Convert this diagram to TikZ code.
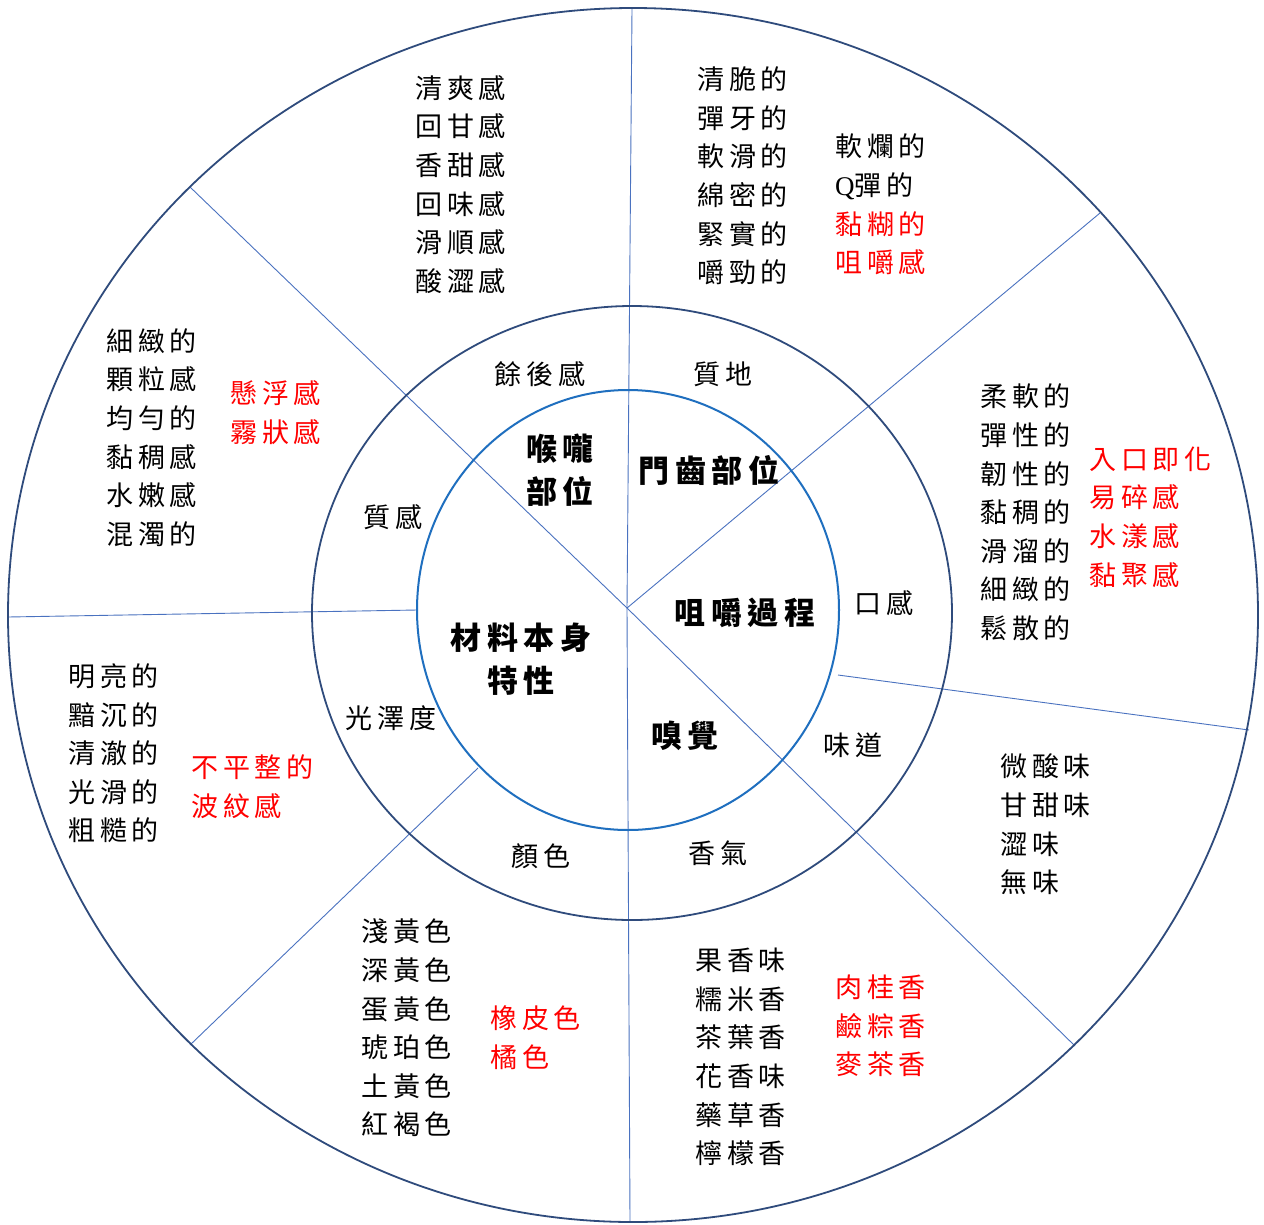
\documentclass[tikz,border=0pt]{standalone}
\usepackage{fontspec}
\setmainfont{Noto Sans CJK TC}[LetterSpace=18]
\newfontfamily\latinQ{Liberation Serif}
\definecolor{navy}{HTML}{2F4B7C}
\definecolor{innerblue}{HTML}{1F6FBF}
\definecolor{spoke}{HTML}{4A72C0}
\definecolor{redtxt}{HTML}{FF0000}
\begin{document}
\begin{tikzpicture}[x=1pt,y=-1pt,
  ringline/.style={draw=navy,line width=1.8pt},
  coreline/.style={draw=innerblue,line width=2pt},
  spokeline/.style={draw=spoke,line width=0.9pt},
  listtext/.style={align=left,inner sep=0pt,anchor=west,font=\fontsize{27}{38.6}\selectfont},
  redlist/.style={listtext,text=redtxt},
  midlabel/.style={inner sep=0pt,font=\fontsize{27}{30}\selectfont},
  hublabel/.style={inner sep=0pt,align=center,font=\bfseries\fontsize{31}{43}\selectfont}]
\useasboundingbox (0,0) rectangle (1264,1224);
\fill[white] (0,0) rectangle (1264,1224);
% spoke coordinates
\coordinate (C) at (627,608);
\coordinate (Ntop) at (632,9);
\coordinate (Nbot) at (630,1221);
\coordinate (UR) at (1100,213);
\coordinate (LR) at (1075,1046);
\coordinate (UL) at (190,187);
\coordinate (Lin) at (417,610);
\coordinate (Lout) at (8,617);
\coordinate (LLin) at (478,768);
\coordinate (LLout) at (190,1045);
\coordinate (Rin) at (838,675);
\coordinate (Rout) at (1249,730);
% spokes
\draw[spokeline] (Ntop) -- (C) -- (Nbot);
\draw[spokeline] (C) -- (UR);
\draw[spokeline] (C) -- (LR);
\draw[spokeline] (C) -- (UL);
\draw[spokeline] (Lin) -- (Lout);
\draw[spokeline] (LLin) -- (LLout);
\draw[spokeline] (Rin) -- (Rout);
% rings
\draw[ringline] (633,615) ellipse [x radius=625pt, y radius=607pt];
\draw[ringline] (632,613) ellipse [x radius=320pt, y radius=307pt];
\draw[coreline] (628,610) ellipse [x radius=211pt, y radius=220pt];
% hub labels
\node[hublabel] (throat) at (560,470) {喉嚨\\部位};
\node[hublabel] (teeth) at (709,470) {門齒部位};
\node[hublabel] (chew) at (745,613) {咀嚼過程};
\node[hublabel] (material) at (521,659) {材料本身\\特性};
\node[hublabel] (smell) at (685,736) {嗅覺};
% middle ring labels
\node[midlabel] (after) at (540,374) {餘後感};
\node[midlabel] (texture) at (723,374) {質地};
\node[midlabel] (feel) at (393,517) {質感};
\node[midlabel] (mouth) at (884,603) {口感};
\node[midlabel] (gloss) at (391,718) {光澤度};
\node[midlabel] (taste) at (853,745) {味道};
\node[midlabel] (colour) at (541,856) {顏色};
\node[midlabel] (aroma) at (718,853) {香氣};
% outer lists
\node[listtext] (afterlist) at (415,184.5) {清爽感\\回甘感\\香甜感\\回味感\\滑順感\\酸澀感};
\node[listtext] (texlist) at (697,176) {清脆的\\彈牙的\\軟滑的\\綿密的\\緊實的\\嚼勁的};
\node[listtext] (texlist2) at (835,204.5) {軟爛的\\{\latinQ Q}彈的\\\textcolor{redtxt}{黏糊的}\\\textcolor{redtxt}{咀嚼感}};
\node[listtext] (feellist) at (106,437.5) {細緻的\\顆粒感\\均勻的\\黏稠感\\水嫩感\\混濁的};
\node[redlist] (feellist2) at (230,412.5) {懸浮感\\霧狀感};
\node[listtext] (mouthlist) at (980,512.5) {柔軟的\\彈性的\\韌性的\\黏稠的\\滑溜的\\細緻的\\鬆散的};
\node[redlist] (mouthlist2) at (1089,517) {入口即化\\易碎感\\水漾感\\黏聚感};
\node[listtext] (glosslist) at (68,753.5) {明亮的\\黯沉的\\清澈的\\光滑的\\粗糙的};
\node[redlist] (glosslist2) at (191,787) {不平整的\\波紋感};
\node[listtext] (tastelist) at (1000,824.5) {微酸味\\甘甜味\\澀味\\無味};
\node[listtext] (colourlist) at (361,1028) {淺黃色\\深黃色\\蛋黃色\\琥珀色\\土黃色\\紅褐色};
\node[redlist] (colourlist2) at (490,1037.5) {橡皮色\\橘色};
\node[listtext] (aromalist) at (695,1057) {果香味\\糯米香\\茶葉香\\花香味\\藥草香\\檸檬香};
\node[redlist] (aromalist2) at (835,1026) {肉桂香\\鹼粽香\\麥茶香};
\end{tikzpicture}
\end{document}
